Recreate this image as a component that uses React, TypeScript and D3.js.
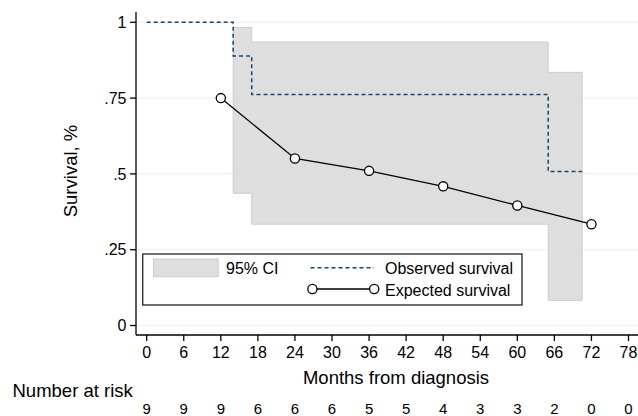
import React from "react";
import * as d3 from "d3";

// ---- data ----
const xTicks = [0, 6, 12, 18, 24, 30, 36, 42, 48, 54, 60, 66, 72, 78];
const numberAtRisk = [9, 9, 9, 6, 6, 6, 5, 5, 4, 3, 3, 2, 0, 0];
const yTicks = [0, 0.25, 0.5, 0.75, 1];
const yTickLabels = ["0", ".25", ".5", ".75", "1"];

const ciTime = [14, 17, 65, 70.5];
const ciUpper = [0.983, 0.935, 0.835, 0.835];
const ciLower = [0.436, 0.334, 0.083, 0.083];

const obsTime = [0, 14, 17, 65, 70.5];
const obsSurv = [1, 0.889, 0.762, 0.508, 0.508];

const expTime = [12, 24, 36, 48, 60, 72];
const expSurv = [0.75, 0.551, 0.51, 0.459, 0.396, 0.334];

const W = 638;
const H = 416;
const FONT = "'Liberation Sans', Arial, Helvetica, sans-serif";

export default function App() {
  const axisX = 136;
  const axisY = 335;
  const x = d3.scaleLinear().domain([0, 78]).range([146.7, 628.5]);
  const y = d3.scaleLinear().domain([0, 1]).range([325.5, 22.3]);

  const ciData = ciTime.map((t, i) => ({ t, lo: ciLower[i], hi: ciUpper[i] }));
  const area = d3
    .area<{ t: number; lo: number; hi: number }>()
    .x((d) => x(d.t))
    .y0((d) => y(d.lo))
    .y1((d) => y(d.hi))
    .curve(d3.curveStepAfter);

  const obsLine = d3
    .line<number>()
    .x((_, i) => x(obsTime[i]))
    .y((d) => y(d))
    .curve(d3.curveStepAfter);

  const expLine = d3
    .line<number>()
    .x((_, i) => x(expTime[i]))
    .y((d) => y(d));

  const navy = "#1a476f";

  return (
    <svg
      width={W}
      height={H}
      style={{ position: "absolute", left: 0, top: 0, background: "#fff" }}
      fontFamily={FONT}
    >
      <rect x={0} y={0} width={W} height={H} fill="#fff" />
      {/* gridlines */}
      {yTicks.map((t) => (
        <line key={"g" + t} x1={axisX} x2={W} y1={y(t)} y2={y(t)} stroke="#eaf2f3" strokeWidth={1.2} />
      ))}
      {/* CI */}
      <path d={area(ciData) || ""} fill="#dedede" stroke="#cdcdcd" strokeWidth={1} />
      {/* observed */}
      <path d={obsLine(obsSurv) || ""} fill="none" stroke={navy} strokeWidth={1.5} strokeDasharray="4 3" />
      {/* expected */}
      <path d={expLine(expSurv) || ""} fill="none" stroke="#000" strokeWidth={1.3} />
      {expSurv.map((v, i) => (
        <circle key={"c" + i} cx={x(expTime[i])} cy={y(v)} r={4.6} fill="#fff" stroke="#000" strokeWidth={1.3} />
      ))}

      {/* axes */}
      <line x1={axisX} x2={axisX} y1={12} y2={axisY} stroke="#000" strokeWidth={1.3} />
      <line x1={axisX} x2={W} y1={axisY} y2={axisY} stroke="#000" strokeWidth={1.3} />
      {yTicks.map((t, i) => (
        <g key={"yt" + t}>
          <line x1={axisX - 6} x2={axisX} y1={y(t)} y2={y(t)} stroke="#000" strokeWidth={1.3} />
          <text x={126.5} y={y(t) + 5.6} textAnchor="end" fontSize={16} fill="#000">
            {yTickLabels[i]}
          </text>
        </g>
      ))}
      {xTicks.map((t) => (
        <g key={"xt" + t}>
          <line x1={x(t)} x2={x(t)} y1={axisY} y2={axisY + 6} stroke="#000" strokeWidth={1.3} />
          <text x={x(t)} y={358.3} textAnchor="middle" fontSize={16} fill="#000">
            {t}
          </text>
        </g>
      ))}
      {numberAtRisk.map((n, i) => (
        <text key={"r" + i} x={x(xTicks[i])} y={414} textAnchor="middle" fontSize={15} fill="#000">
          {n}
        </text>
      ))}

      {/* titles */}
      <text x={396} y={383.5} textAnchor="middle" fontSize={18.5} fill="#000">
        Months from diagnosis
      </text>
      <text x={12.5} y={396.7} fontSize={18.5} fill="#000">
        Number at risk
      </text>
      <text
        transform={`translate(77,${171}) rotate(-90)`}
        textAnchor="middle"
        fontSize={18.5}
        fill="#000"
      >
        Survival, %
      </text>

      {/* legend */}
      <rect x={142.7} y={254} width={379.3} height={51} fill="#fff" stroke="#333" strokeWidth={1.4} />
      <rect x={153.5} y={259} width={64.7} height={17.7} fill="#dedede" stroke="#cdcdcd" strokeWidth={1} />
      <text x={226} y={274} fontSize={16} fill="#000">95% CI</text>
      <line x1={310.5} x2={374} y1={267.7} y2={267.7} stroke={navy} strokeWidth={1.5} strokeDasharray="4 3" />
      <text x={385} y={274} fontSize={16} fill="#000">Observed survival</text>
      <line x1={312.4} x2={374.2} y1={289} y2={289} stroke="#000" strokeWidth={1.3} />
      <circle cx={312.4} cy={289} r={4.6} fill="#fff" stroke="#000" strokeWidth={1.3} />
      <circle cx={374.2} cy={289} r={4.6} fill="#fff" stroke="#000" strokeWidth={1.3} />
      <text x={385} y={295.5} fontSize={16} fill="#000">Expected survival</text>
    </svg>
  );
}
